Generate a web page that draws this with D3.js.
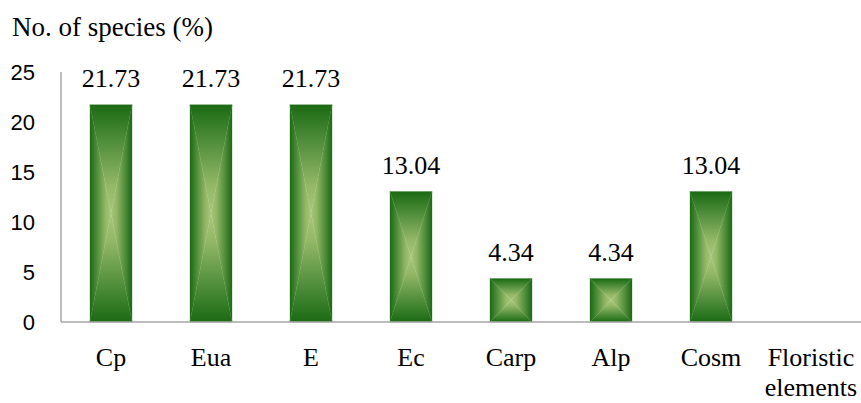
<!DOCTYPE html>
<html>
<head>
<meta charset="utf-8">
<script src="https://cdn.jsdelivr.net/npm/d3@7"></script>
<style>
  html, body { margin: 0; padding: 0; background: #fff; }
  svg { display: block; }
</style>
</head>
<body>
<svg id="chart" width="861" height="403"></svg>
<script>
// Floristic element groups and their share of species (%)
const categories = ["Cp", "Eua", "E", "Ec", "Carp", "Alp", "Cosm"];
const values = [21.73, 21.73, 21.73, 13.04, 4.34, 4.34, 13.04];
const axisTitleX = "Floristic elements";
const axisTitleY = "No. of species (%)";
const yTicks = [0, 5, 10, 15, 20, 25];

(function () {
  const svg = d3.select("#chart");
  const plotLeft = 61, plotRight = 861, plotTop = 72, plotBottom = 322;
  const serif = "'Liberation Serif', 'Times New Roman', serif";

  // last band holds the x-axis title
  const bands = categories.concat([axisTitleX]);
  const x = d3.scaleBand().domain(bands).range([plotLeft, plotRight])
    .paddingInner(0.58).paddingOuter(0.29);
  const y = d3.scaleLinear().domain([0, 25]).range([plotBottom, plotTop]);

  const dark = "#1b6a13", mid = "#4a8a37", light = "#a8c67a";
  const defs = svg.append("defs");

  function addGrad(id, x1, y1, x2, y2) {
    const g = defs.append("linearGradient").attr("id", id)
      .attr("gradientUnits", "userSpaceOnUse")
      .attr("x1", x1).attr("y1", y1).attr("x2", x2).attr("y2", y2);
    g.append("stop").attr("offset", 0).attr("stop-color", dark);
    g.append("stop").attr("offset", 0.3).attr("stop-color", mid);
    g.append("stop").attr("offset", 0.75).attr("stop-color", "#94b867");
    g.append("stop").attr("offset", 1).attr("stop-color", light);
  }

  // Bars: rectangular path-style gradient built from four triangles
  const barG = svg.append("g");
  categories.forEach((c, i) => {
    const x0 = x(c), x1 = x0 + x.bandwidth();
    const y0 = y(values[i]), y1 = y(0);
    const cx = (x0 + x1) / 2, cy = (y0 + y1) / 2;
    const id = "g" + i;
    addGrad(id + "t", cx, y0, cx, cy);
    addGrad(id + "b", cx, y1, cx, cy);
    addGrad(id + "l", x0, cy, cx, cy);
    addGrad(id + "r", x1, cy, cx, cy);
    const tris = [
      [[x0, y0], [x1, y0], [cx, cy], id + "t"],
      [[x0, y1], [x1, y1], [cx, cy], id + "b"],
      [[x0, y0], [x0, y1], [cx, cy], id + "l"],
      [[x1, y0], [x1, y1], [cx, cy], id + "r"]
    ];
    tris.forEach(t => {
      barG.append("path")
        .attr("d", `M${t[0][0]},${t[0][1]}L${t[1][0]},${t[1][1]}L${t[2][0]},${t[2][1]}Z`)
        .attr("fill", `url(#${t[3]})`)
        .attr("stroke", `url(#${t[3]})`).attr("stroke-width", 0.3);
    });
    // value label
    svg.append("text")
      .attr("x", cx).attr("y", y0 - 18)
      .attr("text-anchor", "middle")
      .attr("font-family", serif)
      .attr("font-size", 26).attr("fill", "#000")
      .text(values[i].toFixed(2));
  });

  // Axis lines
  svg.append("line").attr("x1", plotLeft).attr("x2", plotLeft)
    .attr("y1", plotTop).attr("y2", plotBottom)
    .attr("stroke", "#a6a6a6").attr("stroke-width", 1.5);
  svg.append("line").attr("x1", plotLeft).attr("x2", plotRight)
    .attr("y1", plotBottom).attr("y2", plotBottom)
    .attr("stroke", "#a6a6a6").attr("stroke-width", 1.5);

  // Y tick labels
  svg.append("g").selectAll("text").data(yTicks).join("text")
    .attr("x", 35).attr("y", d => y(d))
    .attr("dy", "0.36em")
    .attr("text-anchor", "end")
    .attr("font-family", "'Liberation Sans', Arial, sans-serif")
    .attr("font-size", 22).attr("fill", "#000")
    .text(d => d);

  // X category labels
  const xl = svg.append("g");
  bands.forEach(b => {
    const t = xl.append("text")
      .attr("x", x(b) + x.bandwidth() / 2).attr("y", 366)
      .attr("text-anchor", "middle")
      .attr("font-family", serif)
      .attr("font-size", 26).attr("fill", "#000");
    const words = b === axisTitleX ? ["Floristic", "elements"] : [b];
    words.forEach((w, k) => {
      t.append("tspan").attr("x", x(b) + x.bandwidth() / 2)
        .attr("dy", k === 0 ? 0 : 30).text(w);
    });
  });

  // Y axis title
  svg.append("text")
    .attr("x", 12).attr("y", 36)
    .attr("font-family", serif)
    .attr("font-size", 27).attr("fill", "#000")
    .text(axisTitleY);
})();
</script>
</body>
</html>
